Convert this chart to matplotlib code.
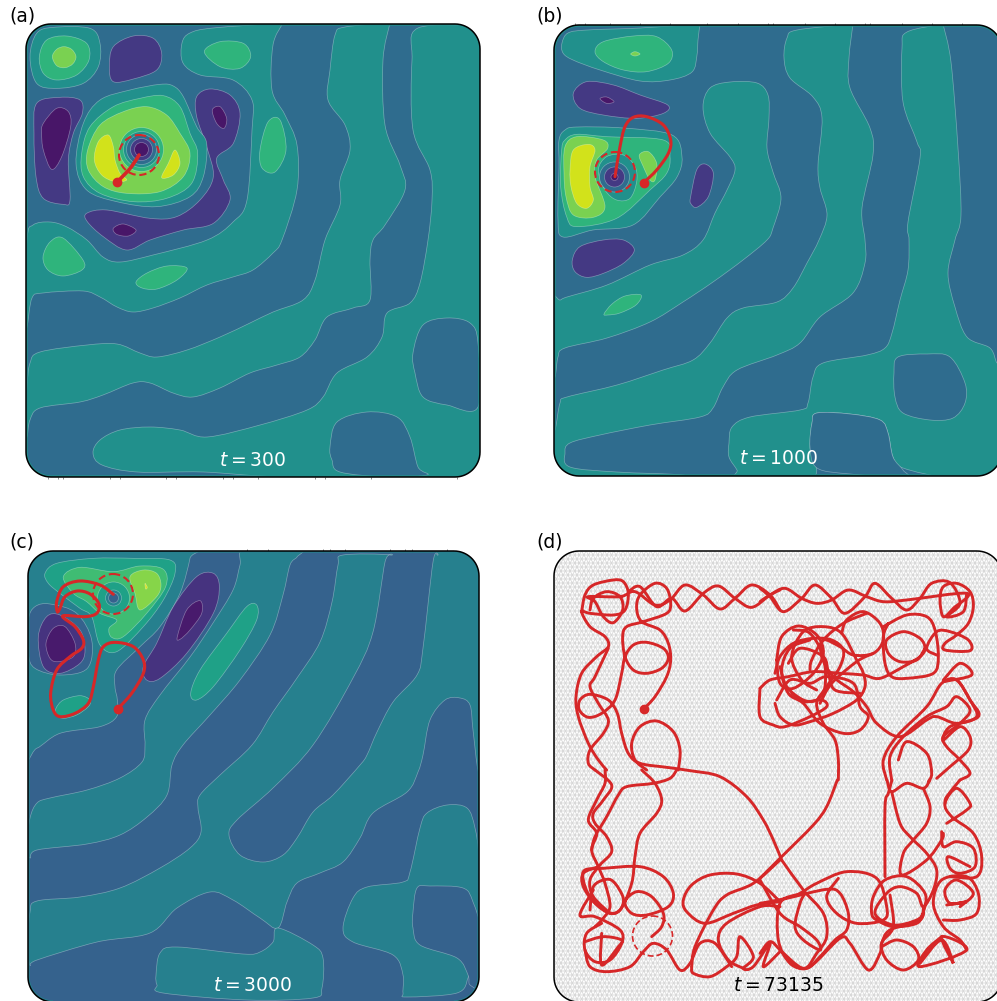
#Four panels of a field with a red trajectory, outlines in picture pixels
import numpy as np
import matplotlib
matplotlib.use("Agg")
import matplotlib.pyplot as plt
import matplotlib.tri as mtri
from matplotlib.path import Path
from matplotlib.patches import PathPatch, Polygon, Circle

W, H = 997, 1001


#crop coordinates (3x zoom) back to picture pixels
def crop(ox, oy, pts):
    return [(ox + x / 3, oy + y / 3) for x, y in pts]


#level colours
L0, L1, L2, L3, L4, L5, L6 = "#481668", "#443983", "#2f6c8e", "#21908c", "#2fb47c", "#7ad151", "#d2e21b"
C0, C1, C2, C3, C4, C5, C6, C7 = "#481a6c", "#46337f", "#35628d", "#26808e", "#1fa187", "#3fbc73", "#86d549", "#d8e219"
RED = "#d62728"

#panel boxes
box_a = (26, 24, 480, 477)
box_b = (554, 25, 1002, 476)
box_c = (28, 551, 479, 1002)
box_d = (554, 551, 1002, 1002)

#panel a
a_teal_1 = [(27, 240), (33, 225), (50, 222), (67, 227), (87, 240), (103, 257), (120, 262), (153, 255), (207, 240), (233, 222),
            (247, 200), (252, 130), (252, 100), (233, 80), (200, 75), (183, 63), (182, 43), (190, 33), (213, 28), (283, 23), (283, 23),
            (273, 45), (272, 90), (285, 115), (297, 145), (297, 190), (282, 240), (273, 253), (253, 270), (233, 277), (207, 285),
            (180, 298), (153, 308), (133, 312), (117, 307), (100, 297), (83, 291), (43, 293), (32, 298), (27, 327), (24, 327)]
a_teal_2 = [(27, 387), (30, 363), (40, 352), (87, 345), (117, 344), (140, 353), (157, 357), (187, 350), (220, 337), (250, 323),
            (273, 312), (303, 300), (315, 280), (325, 240), (340, 205), (340, 180), (350, 150), (345, 125), (328, 100), (330, 70),
            (335, 35), (345, 27), (390, 23), (390, 23), (383, 60), (385, 125), (400, 165), (405, 190), (385, 225), (373, 240), (370, 260),
            (370, 300), (353, 308), (327, 317), (315, 340), (300, 357), (277, 365), (250, 373), (220, 388), (193, 397), (173, 393),
            (150, 383), (133, 383), (103, 395), (80, 402), (40, 408), (30, 420), (27, 437), (24, 437)]
a_teal_3 = [(418, 28), (412, 60), (413, 130), (430, 170), (432, 200), (428, 240), (420, 283), (410, 303), (387, 313), (382, 337),
            (367, 357), (337, 373), (323, 397), (307, 410), (260, 425), (207, 437), (180, 430), (150, 427), (120, 430), (100, 440),
            (93, 453), (102, 465), (137, 472), (203, 472), (287, 477), (482, 479), (482, 479), (482, 26), (482, 26)]
a_island_1 = [(330, 447), (337, 422), (367, 412), (397, 417), (410, 437), (418, 467), (427, 475), (387, 477), (340, 472), (332, 460)]
a_island_2 = [(413, 353), (423, 325), (447, 318), (470, 323), (478, 343), (478, 407), (447, 405), (423, 397), (415, 373)]
a_green_1 = [(43, 257), (50, 242), (63, 238), (83, 260), (82, 270), (63, 276), (48, 270)]
a_green_2 = [(136, 282), (147, 273), (167, 266), (187, 268), (177, 280), (157, 289), (142, 288)]
a_green_3 = [(260, 150), (268, 122), (280, 120), (286, 150), (275, 172), (262, 168)]
a_green_4 = crop(0, 0, [(613, 155), (660, 125), (730, 130), (752, 170), (720, 205), (660, 200)])
a_corner_teal = crop(0, 0, [(90, 170), (110, 100), (160, 82), (270, 85), (300, 130), (295, 200), (250, 250), (170, 265), (110, 250)])
a_corner_green = crop(0, 0, [(118, 170), (140, 120), (200, 108), (260, 130), (267, 180), (230, 225), (170, 240), (130, 220)])
a_corner_light = crop(0, 0, [(157, 170), (170, 148), (192, 140), (215, 148), (228, 170), (218, 192), (195, 203), (170, 197)])
a_dark_left = crop(0, 0, [(110, 310), (180, 292), (240, 300), (247, 340), (220, 400), (205, 480), (210, 600), (190, 613), (130, 595), (108, 530), (102, 400)])
a_deep_left = crop(0, 0, [(130, 370), (170, 325), (205, 335), (212, 380), (185, 470), (155, 508), (130, 450), (125, 400)])
a_dark_top = crop(0, 0, [(340, 140), (400, 108), (460, 115), (485, 160), (470, 210), (400, 237), (340, 245), (328, 200)])
a_dark_snake = crop(0, 0, [(590, 290), (630, 267), (690, 285), (720, 340), (700, 430), (650, 475), (670, 540), (690, 600), (640, 670), (550, 690),
                           (450, 720), (380, 750), (310, 710), (262, 665), (260, 640), (320, 630), (450, 655), (530, 650), (600, 600), (640, 530), (620, 440), (590, 350)])
a_deep_right = crop(0, 0, [(637, 330), (660, 320), (680, 355), (672, 385), (650, 370)])
a_deep_low = crop(0, 0, [(340, 685), (370, 672), (408, 690), (385, 708), (350, 703)])
a_blob_teal = crop(0, 0, [(480, 253), (520, 258), (550, 290), (590, 380), (620, 430), (610, 530), (570, 590), (470, 620), (350, 605), (260, 570), (228, 490), (250, 370), (300, 300), (390, 270)])
a_blob_green = crop(0, 0, [(490, 287), (540, 320), (570, 400), (593, 460), (575, 550), (500, 595), (400, 605), (300, 580), (250, 530), (245, 460), (270, 380), (340, 320), (420, 295)])
a_blob_light = crop(0, 0, [(440, 320), (500, 345), (540, 400), (570, 460), (550, 530), (480, 575), (380, 580), (310, 560), (265, 510), (263, 450), (300, 375), (370, 335)])
a_yellow_1 = crop(0, 0, [(325, 405), (340, 440), (345, 480), (360, 520), (380, 540), (345, 545), (305, 525), (283, 480), (295, 425)])
a_yellow_2 = crop(0, 0, [(525, 450), (540, 490), (520, 525), (485, 533), (505, 490)])
a_regions = [(a_teal_1, L3), (a_teal_2, L3), (a_teal_3, L3), (a_island_1, L2), (a_island_2, L2), (a_green_1, L4), (a_green_2, L4),
             (a_green_3, L4), (a_green_4, L4), (a_corner_teal, L3), (a_corner_green, L4), (a_corner_light, L5), (a_dark_left, L1),
             (a_deep_left, L0), (a_dark_top, L1), (a_dark_snake, L1), (a_deep_right, L0), (a_deep_low, L0), (a_blob_teal, L3),
             (a_blob_green, L4), (a_blob_light, L5), (a_yellow_1, L6), (a_yellow_2, L6)]
a_rings_center = (141.5, 149.5)
a_rings = [(22, L4), (18, L3), (15, L2), (11, L1), (7, L0)]
a_path = [(117, 182), (125, 174), (132, 166), (139, 155)]
a_circle = (139, 155, 20)
a_label = "$t = 300$"
a_ticks = [48, 58, 63, 110, 120, 166, 176, 223, 233, 258, 315, 325, 371, 457]

#panel b
b_blob_top = [(562, 43), (568, 33), (587, 30), (640, 28), (700, 24), (700, 24), (698, 40), (697, 55), (692, 72), (670, 80), (640, 81), (600, 70), (573, 60), (563, 53)]
b_top_green = crop(540, 0, [(165, 155), (190, 125), (280, 108), (350, 110), (395, 150), (385, 190), (320, 215), (250, 210), (190, 185)])
b_top_light = crop(540, 0, [(272, 162), (285, 155), (300, 162), (285, 168)])
b_dark_top = crop(540, 0, [(100, 280), (140, 245), (220, 255), (300, 285), (383, 315), (370, 340), (290, 355), (190, 345), (120, 325)])
b_deep_top = crop(540, 0, [(180, 296), (200, 291), (222, 305), (200, 310)])
b_dark_oval = crop(540, 0, [(452, 590), (470, 510), (495, 492), (520, 520), (505, 590), (470, 622), (452, 610)])
b_left_teal = [(559, 140), (565, 130), (577, 127), (623, 128), (672, 135), (682, 157), (677, 177), (660, 197), (633, 225), (593, 230), (563, 237), (558, 220), (559, 167)]
b_left_green = crop(540, 0, [(75, 420), (110, 403), (200, 410), (370, 420), (390, 470), (380, 520), (330, 570), (230, 655), (110, 680), (80, 650), (62, 560), (65, 450)])
b_left_light = crop(540, 0, [(75, 440), (110, 410), (190, 420), (203, 445), (170, 480), (165, 530), (195, 620), (160, 652), (100, 645), (78, 590), (72, 520)])
b_left_yellow = crop(540, 0, [(90, 510), (100, 450), (145, 433), (165, 450), (150, 500), (150, 560), (160, 600), (140, 625), (110, 610), (93, 560)])
b_right_light = crop(540, 0, [(298, 465), (325, 455), (350, 490), (345, 540), (330, 540), (310, 500)])
b_ring_blob = crop(540, 0, [(175, 510), (200, 470), (250, 465), (285, 500), (290, 545), (270, 595), (230, 600), (195, 570)])
b_island = [(703, 107), (710, 88), (730, 82), (757, 83), (768, 95), (769, 118), (767, 148), (773, 172), (781, 198), (773, 228), (767, 240),
            (743, 260), (713, 282), (683, 302), (650, 322), (607, 338), (565, 348), (558, 357), (555, 377), (550, 377), (550, 300), (560, 300),
            (567, 297), (607, 285), (650, 265), (683, 255), (703, 240), (715, 213), (727, 190), (735, 170), (730, 157), (710, 133)]
b_green_low = [(604, 314), (612, 304), (625, 296), (641, 295), (636, 305), (620, 313), (608, 315)]
b_dark_low = crop(550, 240, [(67, 60), (90, 20), (160, 0), (220, 0), (253, 30), (220, 70), (160, 100), (110, 112), (75, 95)])
b_band_2 = [(550, 430), (555, 430), (560, 403), (567, 397), (617, 385), (663, 370), (693, 360), (710, 343), (727, 318), (743, 308), (777, 302),
            (793, 288), (807, 263), (819, 240), (827, 215), (820, 188), (818, 165), (822, 118), (813, 97), (790, 78), (784, 58), (787, 38), (797, 30),
            (853, 24), (853, 24), (849, 58), (850, 88), (870, 128), (873, 155), (862, 208), (865, 240), (865, 263), (853, 293), (820, 317), (800, 343), (777, 355),
            (737, 370), (723, 387), (713, 408), (700, 417), (650, 425), (600, 435), (570, 443), (565, 453), (570, 467), (617, 472), (683, 475), (680, 480), (550, 480)]
b_band_3 = [(729, 443), (732, 427), (750, 417), (800, 410), (808, 403), (813, 377), (823, 363), (867, 355), (885, 348), (892, 333), (900, 300), (908, 270),
            (909, 240), (908, 222), (920, 158), (917, 142), (903, 102), (902, 48), (907, 32), (943, 24), (943, 24), (951, 62), (958, 148), (961, 215), (955, 240),
            (948, 273), (955, 307), (967, 337), (990, 348), (997, 363), (1004, 363), (1004, 478), (950, 478), (903, 468), (893, 457), (888, 433), (880, 420),
            (850, 414), (817, 413), (812, 423), (810, 447), (812, 478), (740, 478), (737, 470), (729, 457)]
b_island_2 = [(894, 373), (898, 357), (927, 354), (950, 357), (965, 383), (965, 403), (953, 418), (930, 420), (903, 413), (895, 397)]
b_island_3 = [(810, 447), (812, 423), (817, 413), (850, 414), (880, 420), (888, 433), (893, 457), (903, 470), (905, 477), (850, 474), (817, 468)]
b_regions = [(b_blob_top, L3), (b_top_green, L4), (b_top_light, L5), (b_dark_top, L1), (b_deep_top, L0), (b_dark_oval, L1), (b_left_teal, L3),
             (b_left_green, L4), (b_left_light, L5), (b_left_yellow, L6), (b_right_light, L5), (b_island, L3), (b_green_low, L4), (b_dark_low, L1),
             (b_band_2, L3), (b_band_3, L3), (b_island_2, L2), (b_island_3, L2), (b_ring_blob, L3)]
b_rings_center = (614.5, 177)
b_rings = [(15, L2), (10, L1), (3.5, L0)]
b_path = crop(540, 0, [(311, 548), (350, 510), (385, 460), (392, 420), (370, 375), (320, 350), (280, 352), (255, 380), (240, 440), (225, 530)])
b_circle = (615, 172, 20)
b_label = "$t = 1000$"
b_ticks = [575, 585, 610, 640, 670, 707, 738, 768, 773, 805, 835, 865, 870, 902, 932, 962]

#panel c
c_upper_left = crop(0, 530, [(60, 50), (570, 50), (570, 85), (540, 190), (480, 290), (420, 350), (350, 420), (345, 470), (352, 510), (350, 560), (300, 590),
                             (180, 610), (110, 655), (60, 660)])
c_band_a = [(245, 549), (240, 565), (233, 590), (213, 623), (190, 657), (160, 695), (145, 720), (145, 745), (142, 762), (120, 778), (87, 790), (50, 798),
            (37, 803), (30, 818), (27, 845), (30, 858), (37, 850), (87, 844), (120, 835), (147, 817), (167, 795), (172, 765), (183, 745), (210, 715),
            (240, 680), (270, 635), (283, 595), (290, 565), (297, 557), (300, 549)]
c_band_b = [(343, 555), (338, 565), (332, 602), (320, 642), (297, 678), (273, 712), (252, 745), (220, 775), (200, 795), (198, 808), (201, 832), (190, 848),
            (160, 868), (120, 888), (80, 897), (37, 901), (30, 912), (28, 945), (30, 965), (37, 960), (97, 942), (150, 933), (177, 908), (210, 892), (233, 900),
            (260, 918), (278, 928), (287, 902), (297, 883), (320, 873), (343, 862), (360, 838), (373, 813), (407, 792), (418, 772), (423, 755), (430, 720),
            (445, 700), (460, 698), (470, 705), (473, 730), (478, 770), (483, 770), (483, 549), (438, 549), (438, 555), (433, 562), (423, 648), (417, 675), (393, 702),
            (377, 732), (367, 755), (360, 765), (333, 795), (313, 812), (297, 838), (283, 855), (263, 862), (240, 855), (229, 835), (237, 820), (273, 788),
            (313, 745), (353, 678), (373, 632), (385, 562), (390, 555)]
c_band_c = [(410, 872), (420, 828), (427, 813), (447, 805), (467, 808), (475, 828), (479, 860), (480, 935), (478, 960), (470, 965), (468, 978), (457, 993),
            (407, 997), (403, 993), (403, 975), (393, 955), (353, 942), (343, 928), (353, 898), (367, 887), (403, 882)]
c_dark_right = [(413, 912), (417, 888), (430, 886), (463, 888), (473, 902), (482, 935), (482, 985), (470, 985), (468, 975), (457, 958), (420, 945), (413, 928)]
c_band_d = [(156, 975), (160, 953), (177, 947), (243, 954), (260, 952), (273, 942), (278, 928), (313, 945), (323, 958), (322, 988), (313, 998), (247, 1000), (163, 993), (157, 985)]
c_teal_ellipse = crop(0, 530, [(572, 490), (600, 420), (680, 310), (740, 230), (770, 225), (770, 270), (720, 360), (640, 470), (590, 510)])
c_low_ellipse = crop(0, 530, [(168, 535), (190, 510), (240, 497), (270, 510), (265, 530), (230, 555), (190, 565), (170, 555)])
c_dark_left = crop(0, 530, [(105, 230), (150, 222), (230, 250), (275, 330), (262, 415), (180, 435), (105, 415), (85, 370), (85, 270)])
c_purple_left = crop(0, 530, [(115, 320), (140, 260), (180, 255), (240, 300), (255, 360), (240, 400), (180, 430), (130, 410)])
c_deep_left = crop(0, 530, [(138, 340), (160, 295), (195, 290), (225, 340), (220, 380), (175, 395), (150, 385)])
c_purple_band = crop(0, 530, [(430, 410), (470, 340), (520, 230), (590, 140), (640, 130), (658, 170), (640, 250), (560, 370), (480, 445), (440, 450)])
c_deep_band = crop(0, 530, [(532, 320), (560, 240), (600, 212), (605, 250), (570, 300), (540, 328)])
c_green_1 = crop(0, 530, [(135, 130), (170, 100), (280, 85), (400, 85), (510, 90), (525, 130), (490, 210), (430, 290), (350, 365), (300, 345), (275, 260), (240, 235), (180, 190), (145, 160)])
c_green_2 = crop(0, 530, [(190, 140), (240, 112), (340, 125), (420, 108), (490, 118), (497, 170), (440, 250), (370, 320), (335, 322), (327, 295), (350, 270), (300, 250), (260, 215), (220, 190)])
c_green_3 = crop(0, 530, [(390, 140), (430, 120), (470, 130), (483, 165), (470, 200), (420, 240), (405, 190)])
c_yellow = crop(0, 530, [(435, 160), (442, 172), (437, 177)])
c_regions = [(c_upper_left, C3), (c_band_a, C3), (c_band_b, C3), (c_band_c, C3), (c_dark_right, C2), (c_band_d, C3), (c_teal_ellipse, C4), (c_low_ellipse, C4),
             (c_dark_left, C2), (c_purple_left, C1), (c_deep_left, C0), (c_purple_band, C1), (c_deep_band, C0), (c_green_1, C4), (c_green_2, C5), (c_green_3, C6), (c_yellow, C7)]
c_rings_center = (113.5, 598)
c_rings = [(16, C4), (8, C3), (5, C2)]
c_path = crop(0, 530, [(353, 537), (395, 490), (430, 430), (430, 390), (400, 350), (345, 337), (310, 350), (295, 390), (280, 470), (265, 520), (225, 550), (180, 560),
                       (160, 540), (152, 490), (170, 420), (210, 380), (245, 355), (250, 330), (225, 290), (188, 258), (255, 260), (290, 250), (297, 222), (270, 192),
                       (232, 183), (195, 200), (180, 235), (172, 245), (170, 215), (190, 170), (240, 153), (300, 165), (340, 193)])
c_circle = (113, 594, 20)
c_label = "$t = 3000$"
c_ticks = [247, 268, 323, 330, 345, 390, 405, 412, 447]

#panel d, the trajectory in strands as they can be followed in the picture
d_start = (644, 709)
d_strands = [
    crop(540, 530, [(311, 537), (345, 500), (380, 440), (392, 390), (385, 340), (360, 300), (305, 275), (290, 235), (300, 195), (345, 160), (380, 175), (392, 220), (380, 250),
                    (310, 275), (260, 290), (248, 320), (255, 380), (280, 420), (320, 430), (365, 415), (385, 385), (370, 355), (320, 337), (280, 345), (255, 380), (245, 430),
                    (225, 510), (185, 550), (145, 562), (118, 540), (120, 510), (150, 493), (205, 510), (232, 550), (245, 610), (265, 670), (300, 700), (380, 712), (450, 722),
                    (540, 740), (620, 800), (670, 870), (700, 930), (725, 990)]),
    crop(540, 530, [(415, 720), (420, 660), (400, 605), (350, 573), (300, 590), (275, 640), (285, 690), (320, 720)]),
    crop(540, 530, [(125, 245), (135, 195), (160, 165), (220, 150), (250, 155), (265, 190), (255, 240), (220, 255), (150, 250), (125, 245), (150, 290), (195, 320), (205, 350),
                    (170, 380), (125, 430), (108, 500), (115, 560), (145, 640), (175, 690), (200, 720)]),
    crop(540, 530, [(150, 240), (160, 205), (200, 185), (240, 200), (248, 240), (220, 278), (190, 260), (165, 215), (145, 200), (240, 200), (285, 185), (345, 225), (390, 210),
                    (435, 165), (490, 195), (540, 237), (585, 205), (635, 165), (690, 195), (720, 240)]),
    crop(540, 530, [(205, 355), (165, 440), (150, 470), (175, 520), (205, 570), (190, 610), (150, 660), (145, 700), (165, 720)]),
    crop(540, 530, [(265, 185), (300, 170), (350, 230), (395, 205), (435, 243), (490, 190), (535, 168), (585, 205), (635, 232), (690, 195), (720, 180)]),
    crop(760, 560, [(0, 125), (30, 105), (75, 85), (125, 115), (170, 130), (215, 120), (265, 90), (320, 110), (370, 125), (440, 120), (620, 100), (580, 145), (550, 170),
                    (540, 120), (550, 80), (590, 70), (630, 95), (640, 140), (625, 190), (590, 225), (555, 250), (555, 270), (630, 272), (625, 240), (570, 215), (530, 215),
                    (500, 265), (530, 285)]),
    crop(760, 560, [(0, 85), (30, 110), (70, 155), (125, 115), (165, 75), (215, 115), (255, 160), (315, 110), (345, 70), (395, 115), (440, 150), (480, 115), (515, 70), (570, 68), (600, 130), (560, 170), (610, 155), (620, 100)]),
    crop(760, 560, [(370, 200), (440, 165), (500, 170), (525, 210), (535, 290), (520, 340), (440, 355), (395, 350), (375, 310), (370, 230), (385, 190)]),
    crop(760, 560, [(495, 265), (470, 300), (420, 305), (385, 280), (380, 240), (430, 215), (480, 235), (495, 265), (480, 290), (430, 320), (360, 355), (310, 345), (240, 340), (160, 335), (85, 350), (30, 360), (0, 385)]),
    crop(760, 560, [(50, 300), (65, 230), (115, 198), (170, 225), (190, 280), (160, 340), (100, 385), (60, 370), (50, 300)]),
    crop(760, 560, [(45, 340), (60, 290), (100, 250), (160, 235), (215, 240), (250, 270), (240, 320), (200, 380), (170, 430), (190, 490), (225, 540), (235, 600), (235, 660)]),
    crop(760, 780, [(232, 0), (200, 80), (160, 135), (60, 235), (0, 295)]),
    crop(760, 560, [(245, 220), (260, 180), (310, 155), (360, 190), (370, 240), (340, 280), (280, 285), (240, 260), (190, 240), (185, 290), (220, 350), (280, 395), (320, 440),
                    (350, 490), (420, 530), (500, 480), (530, 470), (590, 490), (650, 470), (630, 420), (590, 360), (550, 365)]),
    crop(760, 560, [(45, 430), (60, 470), (100, 495), (150, 485), (220, 460), (290, 420), (315, 380), (310, 340), (290, 300), (245, 220), (190, 200), (130, 215), (95, 290), (125, 360), (170, 390)]),
    crop(760, 560, [(50, 420), (90, 360), (150, 370), (200, 350), (280, 370), (300, 440), (325, 470), (300, 510), (250, 520), (180, 490), (130, 430), (85, 400), (65, 330), (90, 265), (150, 240)]),
    crop(760, 560, [(0, 385), (0, 470), (40, 495), (75, 500), (150, 470), (200, 440), (185, 420), (130, 425), (95, 400)]),
    crop(760, 560, [(150, 330), (155, 300), (190, 240), (250, 190), (320, 160)]),
    crop(760, 560, [(85, 310), (120, 265), (190, 290), (205, 340), (225, 390), (300, 400)]),
    crop(760, 560, [(60, 320), (80, 380), (130, 420), (170, 420), (195, 380), (190, 290), (150, 220), (100, 210)]),
    crop(760, 560, [(180, 430), (215, 370), (290, 305), (340, 280)]),
    crop(760, 560, [(380, 660), (370, 600), (410, 530), (500, 440), (545, 370), (590, 360), (630, 420), (655, 470), (570, 500), (550, 540), (600, 500), (630, 530), (625, 570), (570, 620), (530, 655)]),
    crop(760, 560, [(395, 660), (390, 590), (430, 530), (500, 470), (560, 440), (590, 410), (630, 450), (600, 490), (550, 530), (560, 560), (600, 600), (630, 640), (600, 660)]),
    crop(760, 560, [(415, 600), (440, 545), (500, 580), (515, 640), (505, 665)]),
    crop(760, 560, [(550, 365), (635, 345), (600, 310), (550, 360)]),
    crop(540, 770, [(165, 0), (215, 45), (190, 90), (160, 130), (165, 160), (200, 200), (215, 245), (180, 285), (150, 330), (160, 380), (210, 430)]),
    crop(540, 770, [(195, 0), (195, 40), (170, 90), (145, 150), (170, 190), (155, 240), (175, 290), (195, 340), (210, 410), (185, 450), (165, 470)]),
    crop(540, 770, [(305, 0), (345, 40), (365, 90), (350, 130), (300, 190), (285, 260), (275, 340), (240, 420), (200, 425), (150, 380), (130, 330), (135, 300), (190, 295), (300, 290),
                    (370, 320), (400, 370), (385, 410), (320, 435), (275, 430), (255, 395), (290, 365), (335, 380), (370, 430), (365, 470), (335, 500)]),
    crop(540, 770, [(410, 0), (390, 25), (340, 40), (260, 50), (235, 75), (200, 140), (165, 200), (155, 240)]),
    crop(540, 770, [(175, 290), (130, 310), (130, 350), (165, 400), (210, 430), (240, 420), (250, 385), (225, 340), (200, 328), (160, 350), (150, 420)]),
    crop(540, 770, [(160, 360), (120, 435), (165, 440), (240, 480), (245, 520), (210, 570), (165, 575), (135, 540), (140, 490), (185, 460)]),
    crop(540, 770, [(135, 515), (190, 500), (245, 510), (235, 530), (185, 585), (185, 490)]),
    crop(540, 770, [(135, 540), (150, 590), (200, 605), (270, 590), (310, 545), (340, 520), (380, 540), (420, 600), (450, 580), (480, 520), (525, 520), (575, 590)]),
    crop(540, 770, [(455, 590), (460, 610), (510, 620), (560, 590), (590, 560), (600, 500), (640, 560), (610, 595), (640, 590), (690, 520), (670, 590), (720, 545)]),
    crop(540, 770, [(455, 590), (465, 530), (520, 420), (560, 375), (640, 340), (720, 270)]),
    crop(540, 770, [(720, 395), (650, 405), (580, 430), (495, 460), (440, 425), (430, 390), (455, 345), (510, 315), (590, 312), (660, 340), (720, 395)]),
    crop(540, 770, [(720, 410), (660, 410), (560, 460), (535, 510), (565, 570), (610, 595)]),
    crop(760, 780, [(60, 510), (130, 565), (170, 520), (200, 470), (190, 400), (130, 330), (65, 240)]),
    crop(760, 780, [(0, 370), (80, 355), (200, 328), (240, 340), (265, 400), (260, 450), (225, 480), (180, 530), (140, 565), (90, 550), (55, 480), (60, 370), (120, 340), (170, 310),
                    (260, 275), (350, 295), (380, 380), (370, 420), (290, 430), (230, 400), (200, 350), (235, 295)]),
    crop(760, 780, [(0, 520), (30, 485), (60, 510), (100, 555), (150, 560), (240, 475), (270, 490), (325, 570), (360, 520), (365, 490), (390, 450), (480, 420), (490, 380)]),
    crop(760, 780, [(0, 300), (60, 400), (120, 440), (170, 480), (180, 510), (130, 480), (105, 440), (120, 370), (135, 340)]),
    crop(760, 780, [(396, 0), (385, 40), (375, 80), (375, 290)]),
    crop(760, 780, [(381, 0), (395, 35), (440, 10), (490, 25), (510, 0)]),
    crop(760, 780, [(490, 25), (510, 80), (500, 130), (460, 180), (430, 220), (425, 285), (500, 240), (545, 180), (550, 160)]),
    crop(760, 780, [(395, 35), (420, 130), (450, 170), (500, 220), (530, 270), (520, 330), (490, 380), (470, 340), (420, 320), (380, 340), (345, 400), (400, 435), (470, 420), (490, 395),
                    (495, 340), (440, 290), (375, 300), (340, 350), (335, 400), (350, 420), (400, 440), (470, 430), (490, 400)]),
    crop(760, 780, [(390, 345), (400, 440), (365, 490), (380, 540), (430, 570), (475, 540), (460, 500), (410, 480), (365, 500)]),
    crop(760, 780, [(480, 550), (545, 480), (580, 550), (545, 470), (620, 510), (480, 560), (500, 510), (545, 470)]),
    crop(760, 780, [(620, 510), (600, 480), (550, 440), (520, 370), (545, 300), (620, 290), (655, 340), (650, 400), (600, 420), (550, 420)]),
    crop(760, 780, [(560, 375), (620, 365), (570, 370), (555, 330), (590, 300), (640, 340), (600, 380)]),
    crop(760, 780, [(560, 130), (620, 90), (630, 70), (590, 25), (555, 70), (575, 110), (640, 160), (665, 230), (650, 290), (570, 290)]),
    crop(760, 780, [(545, 155), (550, 200), (590, 185), (640, 205), (645, 260), (600, 280), (570, 265), (565, 230), (630, 260)]),
    crop(760, 780, [(600, 0), (560, 50), (555, 70)]),
]
d_circle = (652.5, 936, 20)
d_label = "$t = 73135$"

panel_letters = ["(a)", "(b)", "(c)", "(d)"]
letter_pos = [(9, 21), (536, 21), (9, 547), (536, 547)]
label_pos = [(252, 460), (778, 459), (252, 985), (778, 985)]


#Catmull-Rom through the read points, written as bezier segments
def smooth_path(pts, closed=True):
    p = np.array(pts, dtype=float)
    n = len(p)
    verts = [p[0]]
    codes = [Path.MOVETO]
    for i in range(n if closed else n - 1):
        if closed:
            p0, p1, p2, p3 = p[(i - 1) % n], p[i], p[(i + 1) % n], p[(i + 2) % n]
        else:
            p0, p1, p2, p3 = p[max(i - 1, 0)], p[i], p[i + 1], p[min(i + 2, n - 1)]
        verts += [p1 + (p2 - p0) / 6, p2 - (p3 - p1) / 6, p2]
        codes += [Path.CURVE4] * 3
    return Path(verts, codes)


#the panel outline as plain line segments, bezier corners go wrong where the box leaves the canvas
def rounded_box(box, r=25):
    x0, y0, x1, y1 = box
    pts = []
    for cx, cy, start in [(x1 - r, y0 + r, -90), (x1 - r, y1 - r, 0), (x0 + r, y1 - r, 90), (x0 + r, y0 + r, 180)]:
        for a in np.radians(np.linspace(start, start + 90, 16)):
            pts.append((cx + r * np.cos(a), cy + r * np.sin(a)))
    return pts


def make_panel(box, ticks, rim=None):
    x0, y0, x1, y1 = box
    ax = fig.add_axes([(x0 - 3) / W, 1 - (y1 + 3) / H, (x1 - x0 + 6) / W, (y1 - y0 + 6) / H])
    ax.set_xlim(x0 - 3, x1 + 3)
    ax.set_ylim(y1 + 3, y0 - 3)
    ax.axis("off")
    outline = rounded_box(box)
    clip = Polygon(outline, closed=True, facecolor="none", edgecolor="none", zorder=0)
    ax.add_patch(clip)
    if rim:
        inner = Polygon(outline, closed=True, facecolor="none", edgecolor=rim, lw=2.4, zorder=4)
        ax.add_patch(inner)
        inner.set_clip_path(clip)
    ax.add_patch(Polygon(outline, closed=True, facecolor="none", edgecolor="black", lw=1.1, zorder=20))
    #the tiny marks that stick out of the frame
    edge = y1 if box is box_a else y0
    sign = 1 if box is box_a else -1
    ax.vlines(ticks, edge, edge + sign * 2, color="#777777", lw=0.6, zorder=3)
    return ax, clip


def draw_field(ax, clip, background, regions, rings_center, rings):
    x0, x1 = ax.get_xlim()
    y1, y0 = ax.get_ylim()
    back = ax.fill([x0, x1, x1, x0], [y0, y0, y1, y1], color=background, zorder=1)[0]
    back.set_clip_path(clip)
    for pts, colour in regions:
        patch = PathPatch(smooth_path(pts), facecolor=colour, edgecolor=(1, 1, 1, 0.35), lw=0.5, zorder=2)
        ax.add_patch(patch)
        patch.set_clip_path(clip)
    for radius, colour in rings:
        ax.add_patch(Circle(rings_center, radius, facecolor=colour, edgecolor=(1, 1, 1, 0.35), lw=0.5, zorder=3))


def draw_track(ax, path, circle, lw=2.2):
    ax.add_patch(PathPatch(smooth_path(path, closed=False), facecolor="none", edgecolor=RED, lw=lw, zorder=5, capstyle="round"))
    ax.plot(path[0][0], path[0][1], "o", color=RED, ms=6, zorder=6)
    ax.add_patch(Circle(circle[:2], circle[2], facecolor="none", edgecolor=RED, lw=1.5, ls=(0, (3.5, 1.8)), zorder=6))


fig = plt.figure(figsize=(W / 100, H / 100), dpi=100)

ax, clip = make_panel(box_a, a_ticks, rim=L3)
draw_field(ax, clip, L2, a_regions, a_rings_center, a_rings)
draw_track(ax, a_path, a_circle, lw=2.6)
ax.text(label_pos[0][0], label_pos[0][1], a_label, color="white", fontsize=13.5, ha="center", va="center", zorder=8)

ax, clip = make_panel(box_b, b_ticks, rim=L3)
draw_field(ax, clip, L2, b_regions, b_rings_center, b_rings)
draw_track(ax, b_path, b_circle)
ax.text(label_pos[1][0], label_pos[1][1], b_label, color="white", fontsize=13.5, ha="center", va="center", zorder=8)

ax, clip = make_panel(box_c, c_ticks, rim=C3)
draw_field(ax, clip, C2, c_regions, c_rings_center, c_rings)
draw_track(ax, c_path, c_circle)
ax.text(label_pos[2][0], label_pos[2][1], c_label, color="white", fontsize=13.5, ha="center", va="center", zorder=8)

#panel d has only the grey mesh under the track
ax, clip = make_panel(box_d, [])
mesh_x, mesh_y = np.meshgrid(np.arange(box_d[0], box_d[2] + 6, 4.6), np.arange(box_d[1], box_d[3] + 6, 4.0))
mesh_x[1::2] += 2.3
tri = mtri.Triangulation(mesh_x.ravel(), mesh_y.ravel())
for line in ax.triplot(tri, color="#d8d8d8", lw=0.6, zorder=1):
    line.set_clip_path(clip)
for strand in d_strands:
    ax.add_patch(PathPatch(smooth_path(strand, closed=False), facecolor="none", edgecolor=RED, lw=2.1, zorder=5, capstyle="round"))
ax.plot(d_start[0], d_start[1], "o", color=RED, ms=6, zorder=6)
ax.add_patch(Circle(d_circle[:2], d_circle[2], facecolor="none", edgecolor=RED, lw=1.2, ls=(0, (3.5, 1.8)), zorder=6))
ax.text(label_pos[3][0], label_pos[3][1], d_label, color="black", fontsize=13.5, ha="center", va="center", zorder=8)

for letter, (lx, ly) in zip(panel_letters, letter_pos):
    fig.text(lx / W, 1 - ly / H, letter, fontsize=13.5, color="black", ha="left", va="baseline")

fig.savefig("out.png", dpi=100)
